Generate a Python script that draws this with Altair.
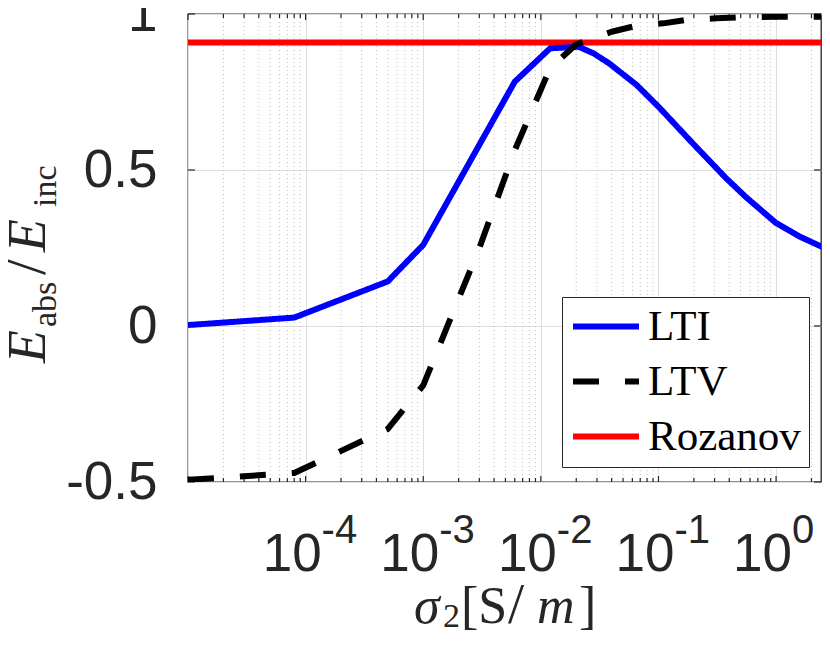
import altair as alt
import pandas as pd

# ---------------- data ----------------
LTI_SIGMA = [1e-5, 8e-5, 5e-4, 1e-3, 6e-3, 1.2e-2, 2.1e-2, 2.8e-2, 3.8e-2,
             6.5e-2, 0.1, 0.195, 0.375, 0.555, 1.0, 1.58, 2.65]
LTI_VALUE = [0.003, 0.027, 0.143, 0.26, 0.783, 0.89, 0.895, 0.874, 0.842,
             0.773, 0.703, 0.586, 0.474, 0.413, 0.330, 0.287, 0.248]

LTV_SIGMA = [1e-5, 8e-5, 5e-4, 1e-3, 3e-3, 6e-3, 1.2e-2, 2e-2, 4e-2,
             6.6e-2, 0.11, 0.18, 0.31, 0.51, 1.0, 2.65]
LTV_VALUE = [-0.493, -0.471, -0.33, -0.19, 0.25, 0.563, 0.827, 0.903, 0.943,
             0.963, 0.970, 0.982, 0.986, 0.990, 0.991, 0.991]

ROZANOV = 0.909

SERIES = ["LTI", "LTV", "Rozanov"]
COLORS = ["#0000ff", "#000000", "#ff0000"]

X_DOMAIN = [1e-5, 2.41]
Y_DOMAIN = [-0.5, 1.0]
Y_TICKS = [-0.5, 0, 0.5, 1]
X_DECADES = [1e-5, 1e-4, 1e-3, 1e-2, 1e-1, 1e0]
X_LABEL_DECADES = [1e-4, 1e-3, 1e-2, 1e-1, 1e0]
X_LABEL_EXP = ["-4", "-3", "-2", "-1", "0"]
X_MINOR = [m * 10.0 ** k for k in range(-5, 1) for m in range(2, 10)
           if m * 10.0 ** k <= X_DOMAIN[1]]

# ---------------- layout / style ----------------
W, H = 633, 468
FG = "#262626"

xscale = alt.Scale(type="log", domain=X_DOMAIN, nice=False)
yscale = alt.Scale(domain=Y_DOMAIN, nice=False, zero=False)

x_axis = alt.Axis(values=X_DECADES, grid=True, labels=False, ticks=False,
                  domain=False, title=None)
y_axis = alt.Axis(values=Y_TICKS, grid=True, ticks=False, domain=False,
                  title=None, labelFont="Liberation Sans", labelFontSize=53,
                  labelColor=FG, labelPadding=31, labelOverlap=False,
                  labelExpr="(datum.value < 0 ? '-' : '') + format(abs(datum.value), '~g')")


def X(field):
    return alt.X(f"{field}:Q", scale=xscale, axis=x_axis)


def Y(field):
    return alt.Y(f"{field}:Q", scale=yscale, axis=y_axis)


legend = alt.Legend(title=None, orient="none", legendX=374, legendY=283,
                    symbolType="stroke", symbolSize=4356, symbolStrokeWidth=6,
                    clipHeight=43, labelFont="Liberation Serif", labelFontSize=43,
                    labelColor="black", strokeColor=FG, fillColor="white",
                    padding=8, rowPadding=11, labelOffset=6)
color_scale = alt.Scale(domain=SERIES, range=COLORS)
dash_scale = alt.Scale(domain=SERIES, range=[[1, 0], [26, 26], [1, 0]])

lines_df = pd.concat([
    pd.DataFrame({"sigma": LTI_SIGMA, "value": LTI_VALUE, "series": "LTI"}),
    pd.DataFrame({"sigma": LTV_SIGMA, "value": LTV_VALUE, "series": "LTV"}),
], ignore_index=True)
roz_df = pd.DataFrame({"value": [ROZANOV], "series": ["Rozanov"]})
major_df = pd.DataFrame({"sigma": X_DECADES})
minor_df = pd.DataFrame({"sigma": X_MINOR})
ytick_df = pd.DataFrame({"value": Y_TICKS})
xlab_df = pd.DataFrame({"sigma": X_LABEL_DECADES, "exp": X_LABEL_EXP})
anchor = pd.DataFrame({"k": [0]})

minor_grid = alt.Chart(minor_df).mark_rule(
    color="#bdbdbd", strokeWidth=1, strokeDash=[1, 3]).encode(x=X("sigma"))


def xticks(df, length):
    bottom = alt.Chart(df).mark_rule(color=FG, strokeWidth=1.2).encode(
        x=X("sigma"), y=alt.value(H), y2=alt.value(H - length))
    top = alt.Chart(df).mark_rule(color=FG, strokeWidth=1.2).encode(
        x=X("sigma"), y=alt.value(0), y2=alt.value(length))
    return [bottom, top]


yticks_left = alt.Chart(ytick_df).mark_rule(color=FG, strokeWidth=1.2).encode(
    y=Y("value"), x=alt.value(0), x2=alt.value(7))
yticks_right = alt.Chart(ytick_df).mark_rule(color=FG, strokeWidth=1.2).encode(
    y=Y("value"), x=alt.value(W), x2=alt.value(W - 7))

roz = alt.Chart(roz_df).mark_rule(strokeWidth=6).encode(
    y=Y("value"),
    color=alt.Color("series:N", scale=color_scale, legend=legend),
    strokeDash=alt.StrokeDash("series:N", scale=dash_scale, legend=legend),
)

lines = alt.Chart(lines_df).mark_line(strokeWidth=6, strokeCap="butt",
                                      strokeJoin="round", clip=True).encode(
    x=X("sigma"),
    y=Y("value"),
    color=alt.Color("series:N", scale=color_scale, legend=legend),
    strokeDash=alt.StrokeDash("series:N", scale=dash_scale, legend=legend),
)

xlab_base = alt.Chart(xlab_df).mark_text(
    text="10", align="right", baseline="alphabetic", dx=16,
    font="Liberation Sans", fontSize=53, color=FG).encode(
    x=X("sigma"), y=alt.value(557))
xlab_exp = alt.Chart(xlab_df).mark_text(
    align="left", baseline="alphabetic", dx=16,
    font="Liberation Sans", fontSize=40, color=FG).encode(
    x=X("sigma"), y=alt.value(529), text="exp:N")


def piece(txt, x, y, size, italic=False, angle=0):
    props = dict(text=txt, align="left", baseline="alphabetic",
                 font="Liberation Serif", fontSize=size, color=FG)
    if italic:
        props["fontStyle"] = "italic"
    if angle:
        props["angle"] = angle
    return alt.Chart(anchor).mark_text(**props).encode(
        x=alt.value(x), y=alt.value(y))


# x title:  sigma_2 [S/m]
xtitle = [
    piece("σ", 226, 609, 52, italic=True),
    piece("2", 255, 613, 34),
    piece("[S", 273, 609, 52),
    piece("/", 320, 609, 58),
    piece("m", 349, 609, 52, italic=True),
    piece("]", 391, 609, 52),
]
# y title:  E_abs / E_inc (rotated)
ytitle = [
    piece("E", -143, 349, 54, italic=True, angle=270),
    piece("abs", -132, 313, 34, angle=270),
    piece("/", -143, 261, 58, angle=270),
    piece("E", -143, 238, 54, italic=True, angle=270),
    piece("inc", -132, 193, 34, angle=270),
]

chart = alt.layer(
    minor_grid,
    *xticks(major_df, 6),
    *xticks(minor_df, 4),
    yticks_left, yticks_right,
    roz,
    lines,
    xlab_base, xlab_exp,
    *xtitle, *ytitle,
).properties(
    width=W, height=H,
    padding={"left": 180, "top": 6, "right": 1, "bottom": 151},
    autosize=alt.AutoSizeParams(type="none"),
).configure_view(
    stroke=FG, strokeWidth=1.3
).configure_axis(
    gridColor="#dfdfdf", gridWidth=1
)

chart.save("out.html", embed_options={"renderer": "svg", "actions": False})
